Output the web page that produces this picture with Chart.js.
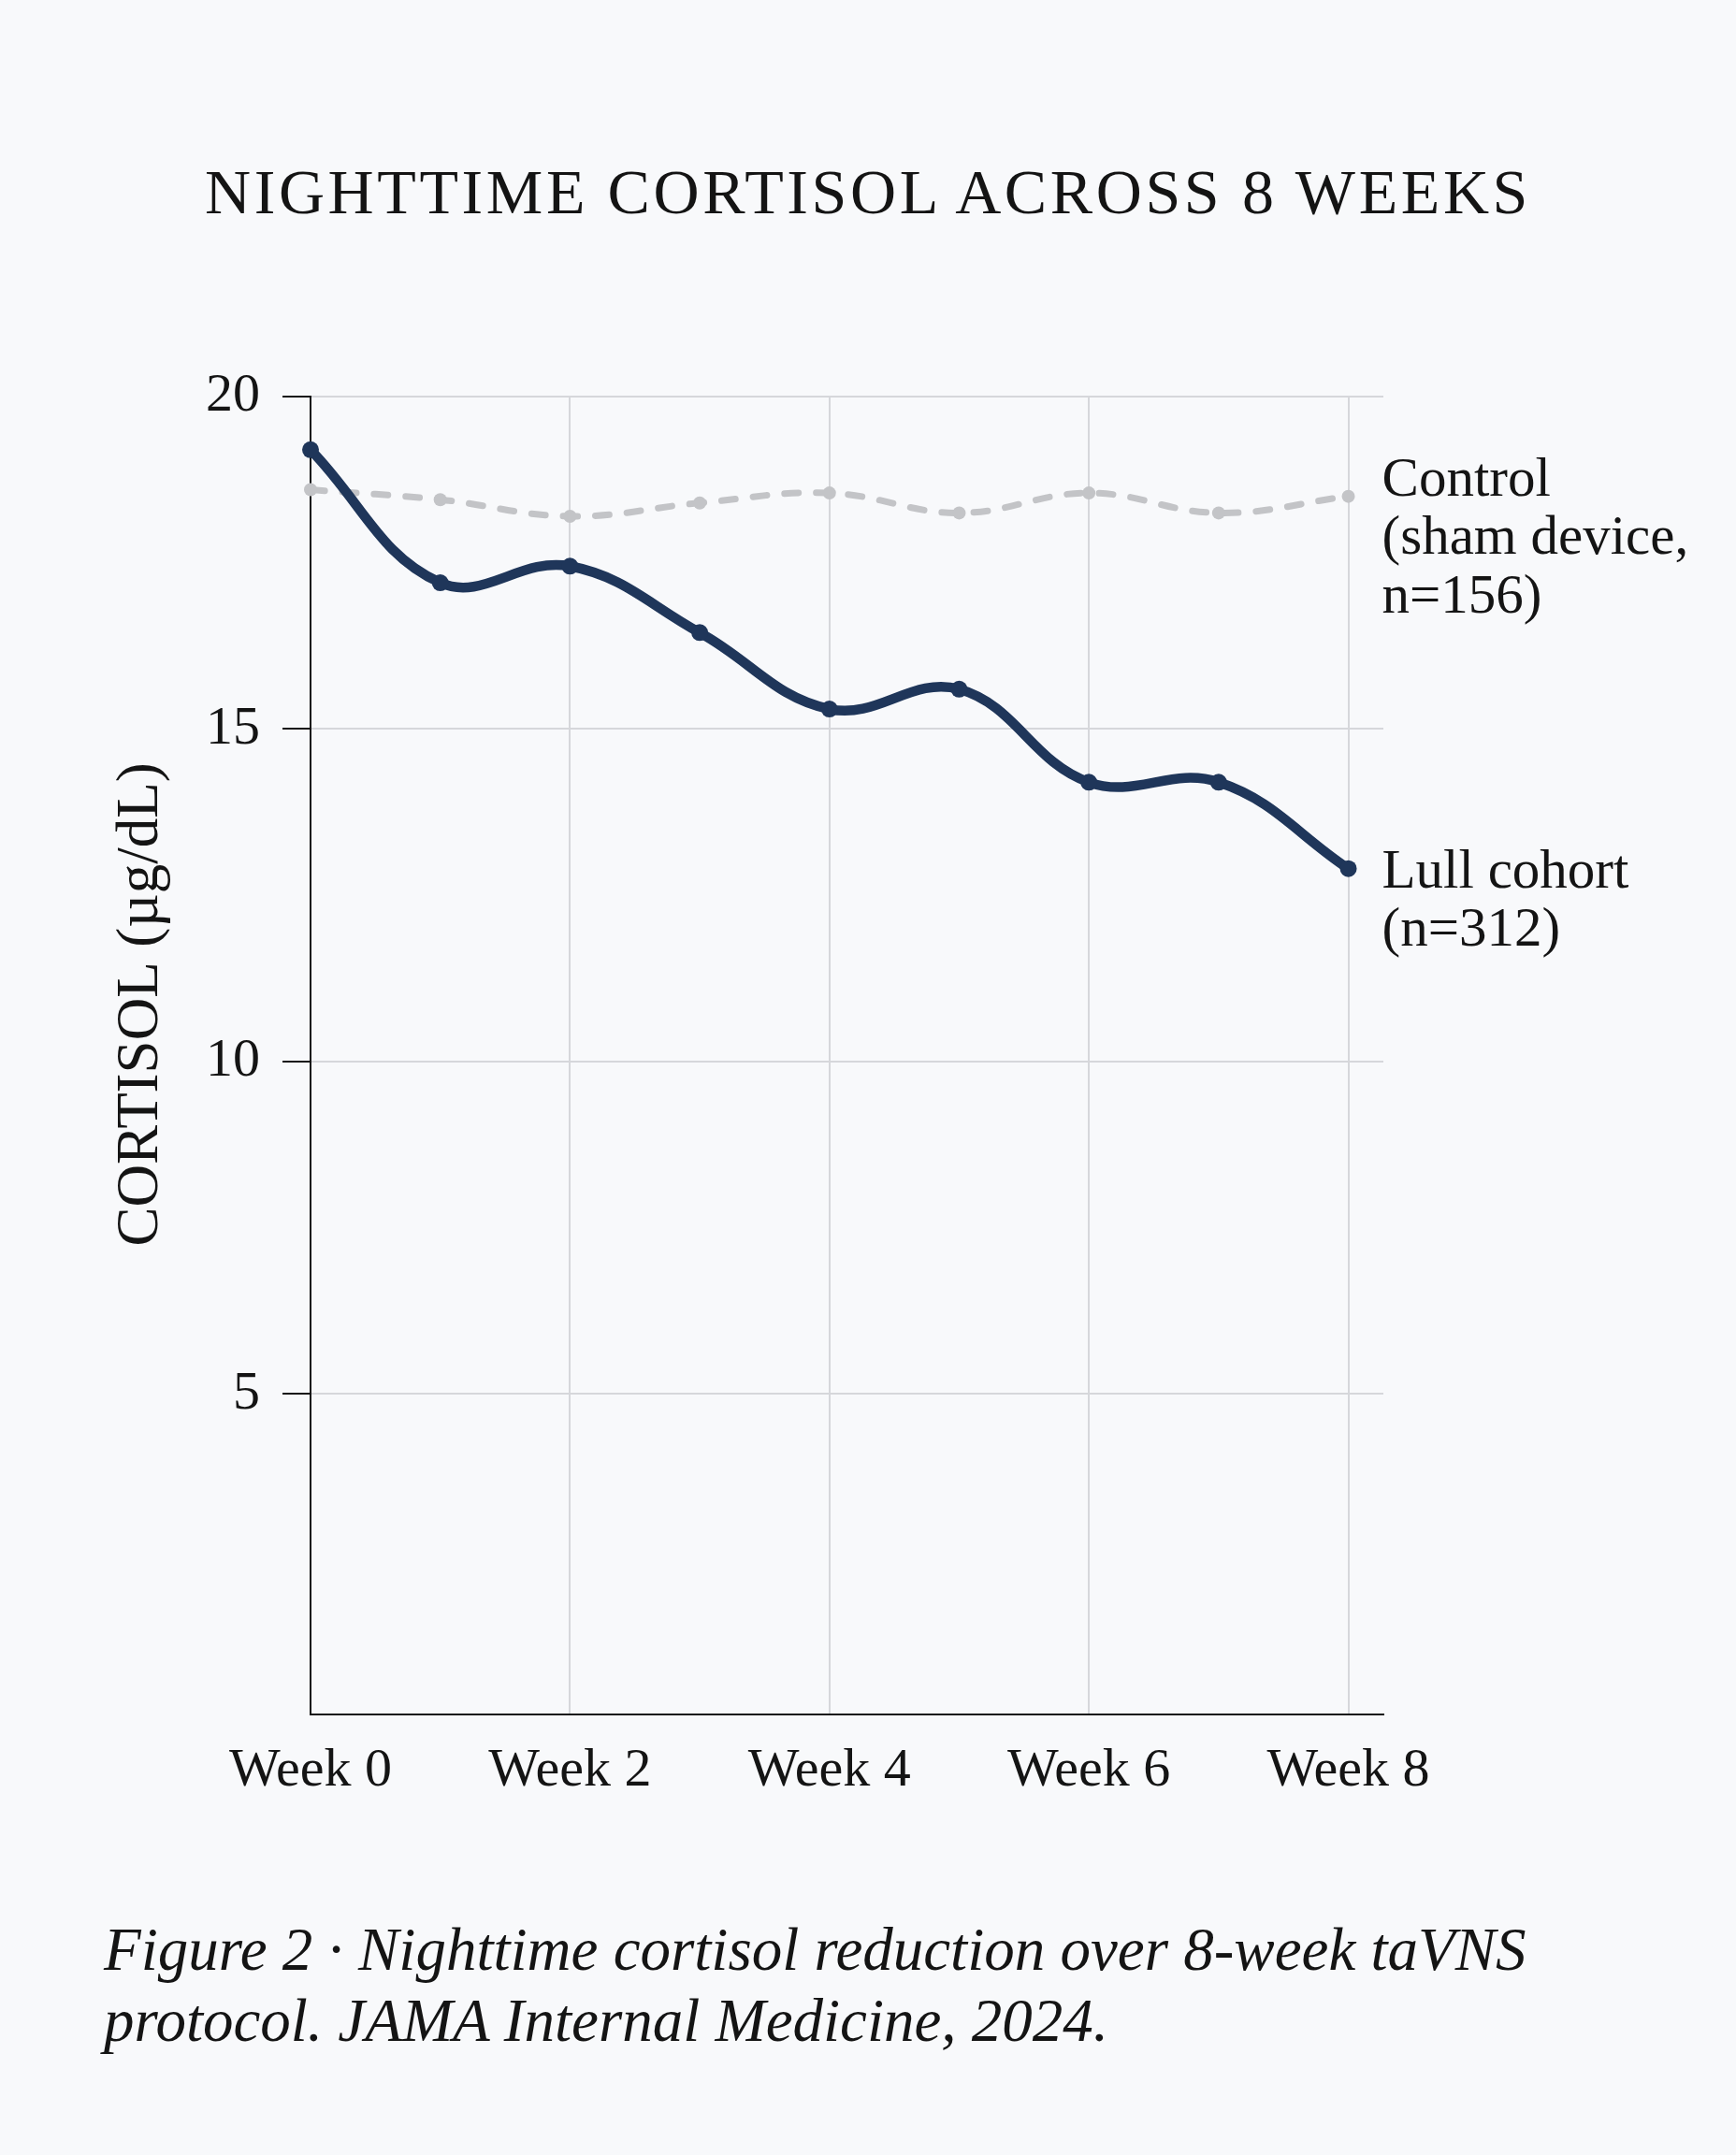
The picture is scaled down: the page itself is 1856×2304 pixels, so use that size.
<!DOCTYPE html>
<html lang="en">
<head>
    <meta charset="UTF-8">
    <title>Nighttime Cortisol Across 8 Weeks</title>
    <script src="https://cdn.jsdelivr.net/npm/chart.js"></script>
    <style>
        body {
            margin: 0;
            width: 1856px;
            height: 2304px;
            position: relative;
            overflow: hidden;
            background: #f8f9fb;
            color: #141414;
            font-family: 'Liberation Serif', serif;
        }

        h1 {
            position: absolute;
            top: 171px;
            left: 0;
            width: 1856px;
            margin: 0;
            text-align: center;
            font-weight: normal;
            font-size: 68px;
            line-height: 1;
            letter-spacing: 3.6px;
        }

        .caption {
            position: absolute;
            top: 2046px;
            left: 111px;
            margin: 0;
            font-style: italic;
            font-size: 65px;
            line-height: 76px;
            white-space: nowrap;
        }

        canvas {
            position: absolute;
            top: 0;
            left: 0;
        }
    </style>
</head>
<body>
    <h1>NIGHTTIME CORTISOL ACROSS 8 WEEKS</h1>
    <p class="caption">Figure 2 · Nighttime cortisol reduction over 8-week taVNS<br>protocol. JAMA Internal Medicine, 2024.</p>
    <canvas id="chart" width="1856" height="2304"></canvas>

    <script>
        const weeks = [0, 1, 2, 3, 4, 5, 6, 7, 8];
        const lullCohort = [19.2, 17.2, 17.45, 16.45, 15.3, 15.6, 14.2, 14.2, 12.9];
        const controlGroup = [18.6, 18.45, 18.2, 18.4, 18.55, 18.25, 18.55, 18.25, 18.5];
        const xTickWeeks = [0, 2, 4, 6, 8];
        const yTickValues = [5, 10, 15, 20];
        const lullLabel = ['Lull cohort', '(n=312)'];
        const controlLabel = ['Control', '(sham device,', 'n=156)'];
        const yTitle = 'CORTISOL (µg/dL)';

        const NAVY = '#1f365a';
        const GREY = '#c3c4c7';
        const INK = '#141414';
        const GRID = '#d6d7db';
        const FONT = '"Liberation Serif", serif';

        const toPoints = vals => weeks.map((w, i) => ({ x: w, y: vals[i] }));

        // end-of-line labels and the rotated y title
        const annotate = {
            id: 'annotate',
            afterDraw(chart) {
                const { ctx, scales: { x, y } } = chart;
                const lastX = x.getPixelForValue(weeks[weeks.length - 1]) + 36;
                ctx.save();
                ctx.fillStyle = INK;
                ctx.font = '59px ' + FONT;
                ctx.textAlign = 'left';
                ctx.textBaseline = 'alphabetic';

                let cy = y.getPixelForValue(controlGroup[controlGroup.length - 1]) - 1;
                controlLabel.forEach((t, i) => ctx.fillText(t, lastX, cy + i * 62.5));

                let ly = y.getPixelForValue(lullCohort[lullCohort.length - 1]) + 20;
                lullLabel.forEach((t, i) => ctx.fillText(t, lastX, ly + i * 62.5));

                ctx.translate(168, 1074);
                ctx.rotate(-Math.PI / 2);
                ctx.textAlign = 'center';
                ctx.font = '63px ' + FONT;
                ctx.fillText(yTitle, 0, 0);
                ctx.restore();
            }
        };

        new Chart(document.getElementById('chart'), {
            type: 'line',
            data: {
                datasets: [
                    {
                        label: 'Lull cohort',
                        data: toPoints(lullCohort),
                        borderColor: NAVY,
                        backgroundColor: NAVY,
                        borderWidth: 10.5,
                        tension: 0.4,
                        pointRadius: 9,
                        pointBorderWidth: 0,
                        borderCapStyle: 'round',
                        clip: false
                    },
                    {
                        label: 'Control',
                        data: toPoints(controlGroup),
                        borderColor: GREY,
                        backgroundColor: GREY,
                        borderWidth: 7,
                        borderDash: [15, 19],
                        borderCapStyle: 'round',
                        tension: 0.4,
                        pointRadius: 7,
                        pointBorderWidth: 0,
                        clip: false
                    }
                ]
            },
            options: {
                responsive: false,
                animation: false,
                devicePixelRatio: 1,
                layout: {
                    padding: { top: 424, right: 377, bottom: 0, left: 0 }
                },
                plugins: {
                    legend: { display: false },
                    tooltip: { enabled: false }
                },
                scales: {
                    x: {
                        type: 'linear',
                        min: 0,
                        max: 8.27,
                        afterBuildTicks: axis => {
                            axis.ticks = xTickWeeks.map(v => ({ value: v }));
                        },
                        afterFit: s => { s.height = 471; },
                        ticks: {
                            callback: v => 'Week ' + v,
                            color: INK,
                            font: { family: FONT, size: 58 },
                            padding: 26,
                            maxRotation: 0
                        },
                        grid: {
                            color: GRID,
                            lineWidth: 2,
                            drawTicks: false
                        },
                        border: { color: INK, width: 2 }
                    },
                    y: {
                        min: 0.18,
                        max: 20,
                        afterBuildTicks: axis => {
                            axis.ticks = yTickValues.map(v => ({ value: v }));
                        },
                        afterFit: s => { s.width = 332; },
                        ticks: {
                            color: INK,
                            font: { family: FONT, size: 58 },
                            padding: 24
                        },
                        grid: {
                            color: GRID,
                            lineWidth: 2,
                            tickLength: 30,
                            tickColor: INK,
                            tickWidth: 2
                        },
                        border: { color: INK, width: 2 }
                    }
                }
            },
            plugins: [annotate]
        });
    </script>
</body>
</html>
